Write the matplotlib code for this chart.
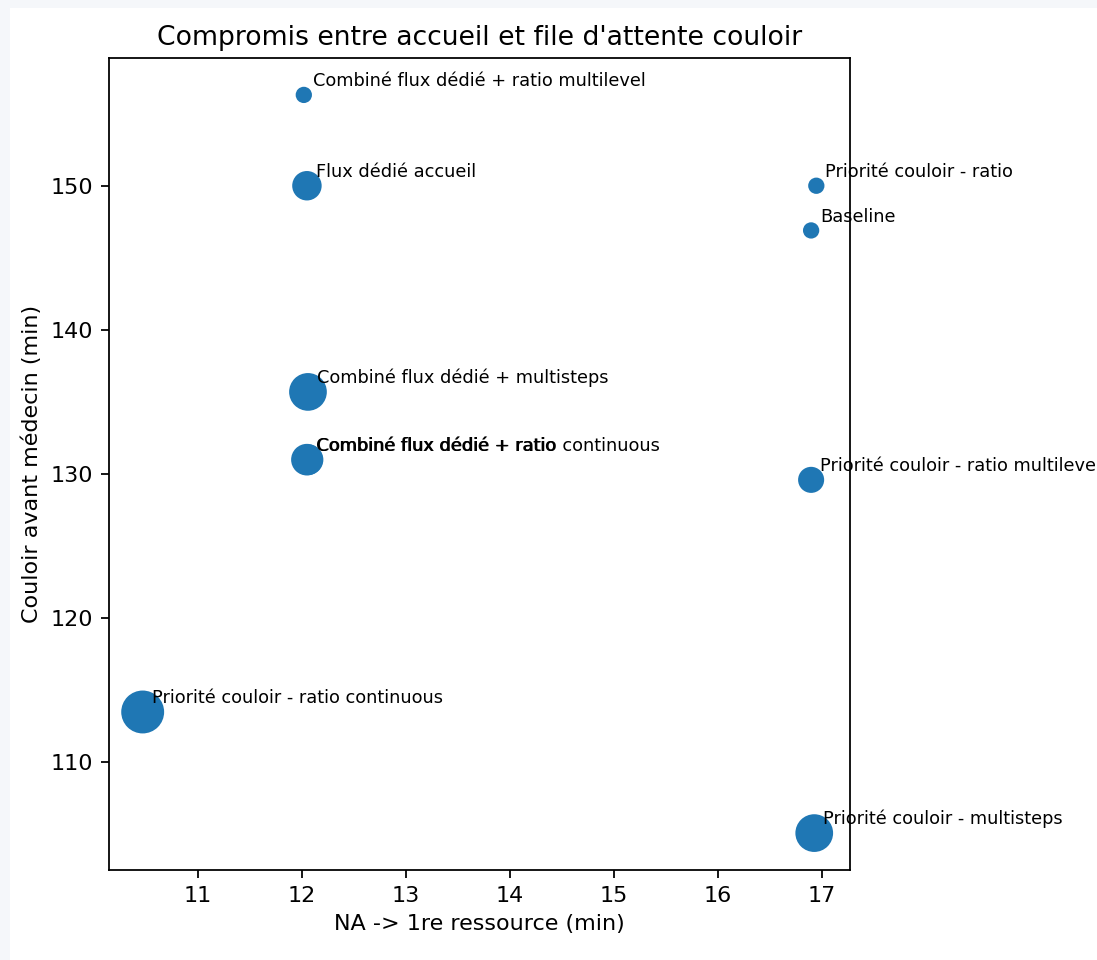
import matplotlib
matplotlib.use('Agg')
import matplotlib.pyplot as plt
from matplotlib.patches import Rectangle

scenarios = [
    'Combiné flux dédié + ratio multilevel',
    'Flux dédié accueil',
    'Priorité couloir - ratio',
    'Baseline',
    'Combiné flux dédié + multisteps',
    'Combiné flux dédié + ratio',
    'Combiné flux dédié + ratio continuous',
    'Priorité couloir - ratio multilevel',
    'Priorité couloir - ratio continuous',
    'Priorité couloir - multisteps',
]
accueil = [12.02, 12.05, 16.95, 16.90, 12.06, 12.05, 12.06, 16.90, 10.47, 16.93]
couloir = [156.3, 150.0, 150.0, 146.9, 135.7, 131.0, 131.0, 129.6, 113.5, 105.1]
taille = [40, 150, 40, 40, 255, 175, 165, 115, 335, 255]

fig = plt.figure(figsize=(1097 / 160, 960 / 160), dpi=160, facecolor='#f5f7fa')
fig.patches.append(Rectangle((10 / 1097, 0), 1, 1 - 8 / 960, transform=fig.transFigure,
                             facecolor='white', edgecolor='none', zorder=-1))
ax = fig.add_axes([109 / 1097, 90 / 960, 741 / 1097, 812 / 960])

ax.scatter(accueil, couloir, s=taille, color='#1f77b4')
for nom, x, y in zip(scenarios, accueil, couloir):
    ax.annotate(nom, (x, y), xytext=(4, 4), textcoords='offset points', fontsize=8)

ax.set_title("Compromis entre accueil et file d'attente couloir", fontsize=12)
ax.set_xlabel('NA -> 1re ressource (min)')
ax.set_ylabel('Couloir avant médecin (min)')

fig.savefig('out.png', dpi=160, facecolor=fig.get_facecolor())
